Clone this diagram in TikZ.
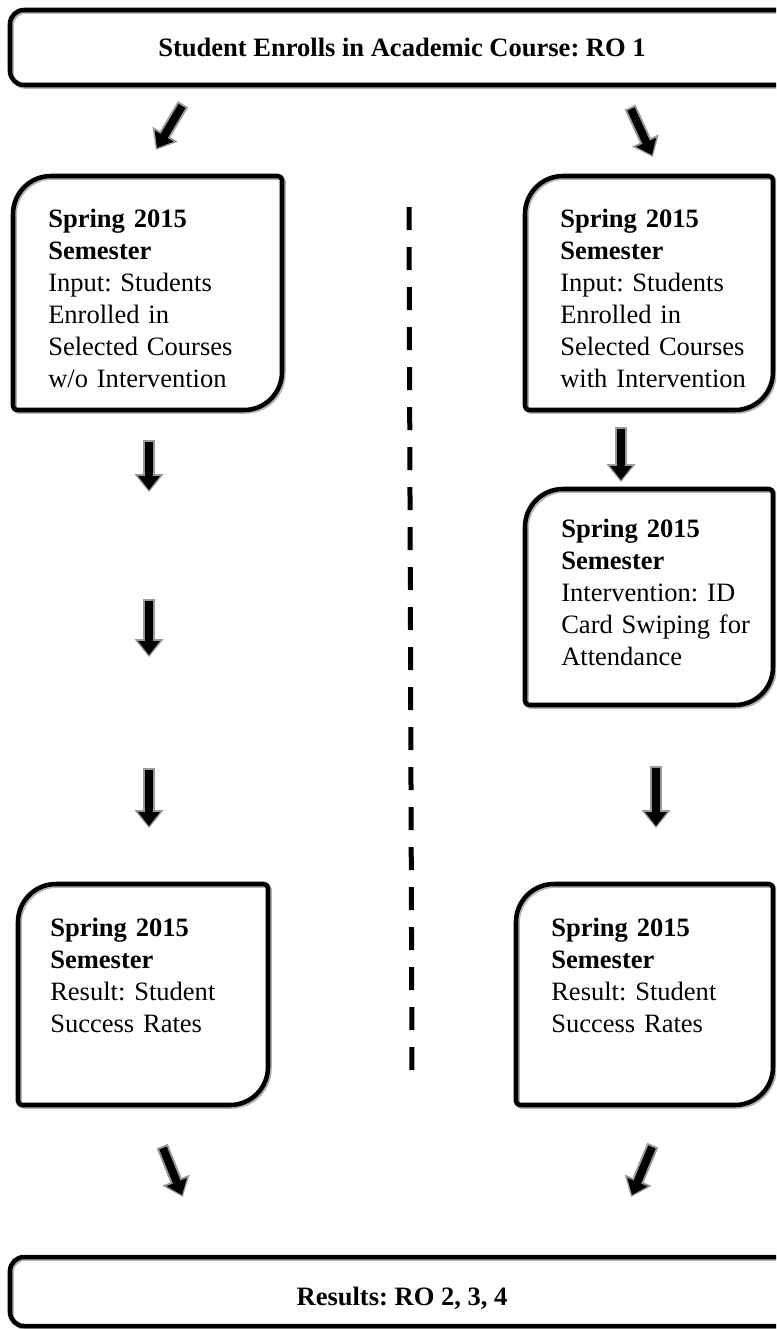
\documentclass[tikz,border=0pt]{standalone}
\usepackage{fontspec}
\setmainfont{Liberation Serif}
\usetikzlibrary{arrows.meta}
\frenchspacing
\newcommand\rdbox[5][boxline]{%
  \draw[#1] ({#2},{#3+38}) arc[start angle=180,end angle=270,radius=38]
    -- ({#4-4},{#3}) arc[start angle=270,end angle=360,radius=4]
    -- ({#4},{#5-38}) arc[start angle=0,end angle=90,radius=38]
    -- ({#2+4},{#5}) arc[start angle=90,end angle=180,radius=4] -- cycle;}
\begin{document}
\begin{tikzpicture}[x=0.75pt,y=-0.75pt,
  boxline/.style={draw=black,line width=3.4pt,line join=round},
  shadowline/.style={draw=black!30,line width=3.4pt,line join=round},
  txt/.style={font=\fontsize{19.9pt}{24pt}\selectfont\frenchspacing, text width=200pt, align=left, inner sep=0pt, anchor=base west},
  title/.style={font=\fontsize{19.9pt}{24pt}\selectfont\bfseries\frenchspacing, inner sep=0pt, anchor=base},
  arrowbg/.style={draw=black!40, line width=9pt, -{Triangle[width=22pt,length=13.5pt,line width=0pt]}, shorten >=-1.5pt, shorten <=-1.5pt},
  arrowfg/.style={draw=black, line width=6pt, -{Triangle[width=16.5pt,length=10.5pt,line width=0pt]}},
  divider/.style={draw=black, line width=3.75pt, dash pattern=on 17.25pt off 12.75pt}]
\useasboundingbox (0,0) rectangle (776,1329);
\clip (0,0) rectangle (776,1329);

% shadows
\begin{scope}[shift={(1.5,1.5)}]
  \draw[shadowline, rounded corners=10.5pt] (10,10) rectangle (800,85);
  \draw[shadowline, rounded corners=10.5pt] (10,1257) rectangle (800,1326);
  \rdbox[shadowline]{13}{176}{282}{410}
  \rdbox[shadowline]{525}{176}{773}{410}
  \rdbox[shadowline]{525}{489}{773}{705}
  \rdbox[shadowline]{18}{884}{268}{1105}
  \rdbox[shadowline]{516}{884}{773}{1105}
\end{scope}

% boxes
\draw[boxline, rounded corners=10.5pt] (10,10) rectangle (800,85);
\draw[boxline, rounded corners=10.5pt] (10,1257) rectangle (800,1326);
\rdbox{13}{176}{282}{410}
\rdbox{525}{176}{773}{410}
\rdbox{525}{489}{773}{705}
\rdbox{18}{884}{268}{1105}
\rdbox{516}{884}{773}{1105}

% texts
\node[title] (start) at (402,56) {Student Enrolls in Academic Course: RO 1};
\node[title] (results) at (402,1305) {Results: RO 2, 3, 4};
\node[txt] (in1) at (48,227) {\textbf{Spring 2015}\\\textbf{Semester}\\Input: Students\\Enrolled in\\Selected Courses\\w/o Intervention};
\node[txt] (in2) at (560,227) {\textbf{Spring 2015}\\\textbf{Semester}\\Input: Students\\Enrolled in\\Selected Courses\\with Intervention};
\node[txt] (int) at (561,537) {\textbf{Spring 2015}\\\textbf{Semester}\\Intervention: ID\\Card Swiping for\\Attendance};
\node[txt] (res1) at (50,936) {\textbf{Spring 2015}\\\textbf{Semester}\\Result: Student\\Success Rates};
\node[txt] (res2) at (551,936) {\textbf{Spring 2015}\\\textbf{Semester}\\Result: Student\\Success Rates};

% divider
\coordinate (dtop) at (409,207);
\coordinate (dbot) at (412,1075);
\draw[divider] (dtop) -- (dbot);

% arrow end points
\coordinate (aS) at (182,106); \coordinate (aE) at (157,148);
\coordinate (bS) at (631,109); \coordinate (bE) at (652,155);
\coordinate (l1S) at (149,442); \coordinate (l1E) at (149,490);
\coordinate (l2S) at (149,601); \coordinate (l2E) at (149,655);
\coordinate (l3S) at (149,770); \coordinate (l3E) at (149,826);
\coordinate (r1S) at (621,429); \coordinate (r1E) at (621,480);
\coordinate (r2S) at (656,768); \coordinate (r2E) at (656,826);
\coordinate (cS) at (163,1148); \coordinate (cE) at (182,1195);
\coordinate (dS) at (652,1147); \coordinate (dE) at (632,1195);

\foreach \p in {a,b,l1,l2,l3,r1,r2,c,d}{
  \draw[arrowbg] (\p S) -- (\p E);
  \draw[arrowfg] (\p S) -- (\p E);
}
\end{tikzpicture}
\end{document}
